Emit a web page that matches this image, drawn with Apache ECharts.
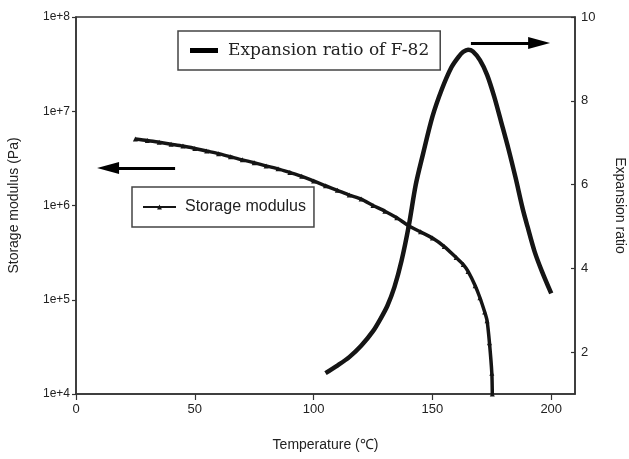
<!DOCTYPE html>
<html>
<head>
<meta charset="utf-8">
<script src="https://cdn.jsdelivr.net/npm/echarts@6/dist/echarts.min.js"></script>
<style>html,body{margin:0;padding:0;background:#fff;}#c{width:629px;height:459px;}</style>
</head>
<body>
<div id="c"></div>
<script>
// Storage modulus (Pa) vs temperature (°C)
const modulusTemp = [25,30,35,40,45,50,55,60,65,70,75,80,85,90,95,100,105,110,115,120,125,130,135,140,145,150,155,160,163,165,168,170,172,173,174,175,175.2];
const modulusValue = [5.08e6,4.9e6,4.68e6,4.47e6,4.27e6,4.03e6,3.78e6,3.55e6,3.29e6,3.05e6,2.85e6,2.63e6,2.45e6,2.24e6,2.04e6,1.82e6,1.62e6,1.45e6,1.29e6,1.17e6,1.0e6,8.7e5,7.4e5,6.1e5,5.25e5,4.52e5,3.67e5,2.8e5,2.36e5,2.0e5,1.41e5,1.05e5,7.4e4,6.0e4,3.5e4,1.66e4,1.0e4];
// Expansion ratio of F-82 vs temperature (°C)
const expTemp = [105,110,115,120,125,128,131,134,137,140,143,146,150,154,158,161,163,165,167,170,173,176,179,182,185,188,190,193,196,200];
const expValue = [1.50,1.68,1.88,2.15,2.50,2.78,3.10,3.55,4.18,5.00,6.00,6.72,7.62,8.28,8.80,9.05,9.17,9.22,9.18,8.97,8.62,8.10,7.48,6.85,6.16,5.42,5.00,4.40,3.94,3.40];
const xTicks = [0,50,100,150,200];
const rightTicks = [2,4,6,8,10];
const leftArrow = [[41.7, 2.5e6],[13.5, 2.5e6]];
const rightArrow = [[166.2, 9.38],[194.9, 9.38]];

const modulusData = modulusTemp.map((t,i)=>[t, modulusValue[i]]);
const expData = expTemp.map((t,i)=>[t, expValue[i]]);

const ink = '#151515';
const txt = '#222';
const chart = echarts.init(document.getElementById('c'), null, {renderer:'canvas'});
chart.setOption({
  animation:false,
  backgroundColor:'#fff',
  grid:{left:76,right:54,top:17,bottom:65,show:true,borderColor:'#333',borderWidth:1.5,
        containLabel:false,outerBoundsMode:'none'},
  xAxis:{
    type:'value',min:0,max:210,
    name:'Temperature (℃)',nameLocation:'middle',nameGap:44,
    nameTextStyle:{fontFamily:'Liberation Sans',fontSize:14,color:txt},
    axisLine:{lineStyle:{color:'#333',width:1.5}},
    axisTick:{customValues:xTicks,length:6,lineStyle:{color:'#333',width:1.2}},
    axisLabel:{customValues:xTicks,fontFamily:'Liberation Sans',fontSize:13,color:txt,margin:9},
    splitLine:{show:false}
  },
  yAxis:[{
    type:'log',logBase:10,min:1e4,max:1e8,
    name:'Storage modulus (Pa)',nameLocation:'middle',nameGap:55,
    nameTextStyle:{fontFamily:'Liberation Sans',fontSize:14,color:txt},
    axisLine:{show:true,lineStyle:{color:'#333',width:1.5}},
    axisTick:{show:true,length:4,lineStyle:{color:'#333',width:1.2}},
    axisLabel:{fontFamily:'Liberation Sans',fontSize:12,color:txt,margin:6,
      formatter:v=>'1e+'+Math.round(Math.log10(v))},
    splitLine:{show:false},minorTick:{show:false}
  },{
    type:'value',min:1,max:10,position:'right',
    name:'Expansion ratio',nameLocation:'middle',nameGap:38,nameRotate:-90,
    nameTextStyle:{fontFamily:'Liberation Sans',fontSize:14,color:txt},
    axisLine:{show:true,lineStyle:{color:'#333',width:1.5}},
    axisTick:{show:true,inside:true,length:4,customValues:rightTicks,lineStyle:{color:'#333',width:1.2}},
    axisLabel:{customValues:rightTicks,fontFamily:'Liberation Sans',fontSize:13,color:txt,margin:6},
    splitLine:{show:false}
  }],
  legend:[{
    data:[{name:'Expansion ratio of F-82',icon:'rect'}],
    left:178,top:31,orient:'horizontal',
    padding:[11,11,11,12],itemWidth:28,itemHeight:5,
    borderColor:'#444',borderWidth:1.5,
    itemStyle:{color:'#000'},
    textStyle:{fontFamily:'DejaVu Serif',fontSize:17,color:txt,padding:[0,5,0,5]}
  },{
    data:['Storage modulus'],
    left:132,top:187,
    padding:[12,8,12,10],itemWidth:33,itemHeight:6,
    borderColor:'#444',borderWidth:1.5,
    textStyle:{fontFamily:'Liberation Sans',fontSize:16,color:txt,padding:[0,0,0,4]}
  }],
  series:[{
    name:'Storage modulus',type:'line',yAxisIndex:0,data:modulusData,
    smooth:0.25,showSymbol:true,symbol:'triangle',symbolSize:5,
    lineStyle:{color:ink,width:3.5},itemStyle:{color:ink},
    markLine:{silent:true,symbol:['none','triangle'],symbolSize:[12,22],
      lineStyle:{color:'#000',width:3,type:'solid'},label:{show:false},
      data:[[{coord:leftArrow[0]},{coord:leftArrow[1]}]]}
  },{
    name:'Expansion ratio of F-82',type:'line',yAxisIndex:1,data:expData,
    smooth:0.3,showSymbol:false,symbol:'none',
    lineStyle:{color:ink,width:4.5},itemStyle:{color:ink},
    markLine:{silent:true,symbol:['none','triangle'],symbolSize:[12,22],
      lineStyle:{color:'#000',width:3,type:'solid'},label:{show:false},
      data:[[{coord:rightArrow[0]},{coord:rightArrow[1]}]]}
  }]
});
</script>
</body>
</html>
